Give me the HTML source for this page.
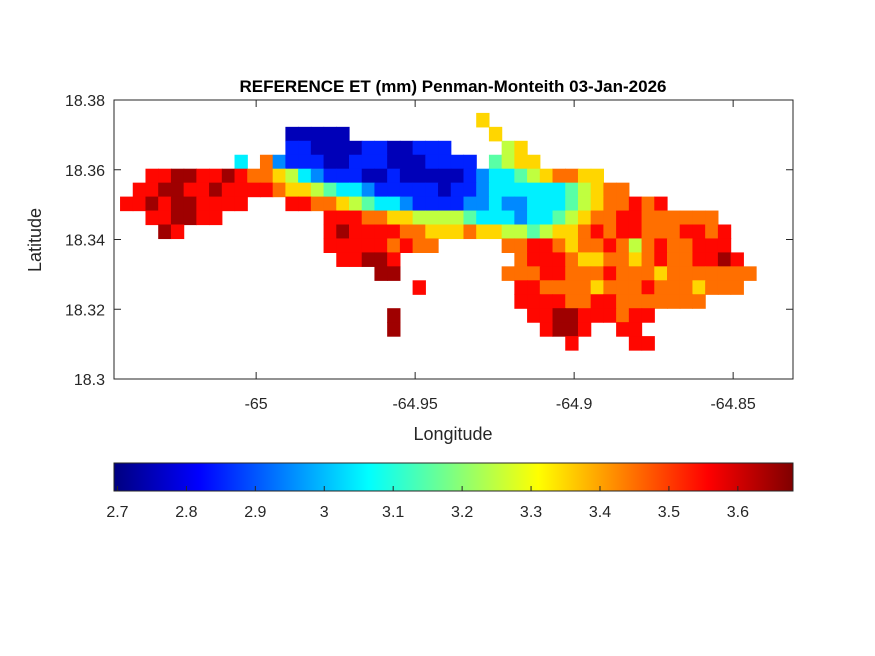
<!DOCTYPE html>
<html><head><meta charset="utf-8">
<style>
html,body{margin:0;padding:0;background:#fff;}
svg{display:block;font-family:"Liberation Sans",Arial,sans-serif;}
</style></head>
<body>
<svg id="chart" width="875" height="656" viewBox="0 0 875 656" xmlns="http://www.w3.org/2000/svg">
<rect width="875" height="656" fill="#fff"/>
<text x="453" y="92" text-anchor="middle" font-size="17" font-weight="bold" fill="#000">REFERENCE ET (mm) Penman-Monteith 03-Jan-2026</text>
<g id="map"></g>
<rect x="114" y="100" width="679" height="279" fill="none" stroke="#262626" stroke-width="1"/>
<g id="axes"></g>
<text x="453" y="440" text-anchor="middle" font-size="18" fill="#262626">Longitude</text>
<text transform="translate(41,240) rotate(-90)" text-anchor="middle" font-size="18" fill="#262626">Latitude</text>
<g id="cbar"></g>
</svg>
<script>
// ---- data ----
const lonTicks = [-65, -64.95, -64.9, -64.85];
const lonTickLabels = ["-65", "-64.95", "-64.9", "-64.85"];
const latTicks = [18.38, 18.36, 18.34, 18.32, 18.3];
const latTickLabels = ["18.38", "18.36", "18.34", "18.32", "18.3"];
const cbarTicks = [2.7, 2.8, 2.9, 3.0, 3.1, 3.2, 3.3, 3.4, 3.5, 3.6];
const cbarTickLabels = ["2.7","2.8","2.9","3","3.1","3.2","3.3","3.4","3.5","3.6"];
const gridLon0 = -65.0428;
const gridLat0 = 18.3763;
const gridStep = 0.004;
const levelBase = 2.75;
const levelStep = 0.1;
// each row: list of [startColumn, digits]; digit d => ET = 2.75 + 0.1*d
const etRows = [
  [[28,"6"]],
  [[13,"00000"],[29,"6"]],
  [[13,"1100001100111"],[30,"56"]],
  [[9,"3"],[11,"72111001110001111"],[29,"4566"]],
  [[2,"889988987765321110010000012334567766"]],
  [[1,"889988988887665433211111011233333345677"]],
  [[0,"8898998888"],[13,"887765433211112232233345677878"]],
  [[2,"889988"],[16,"8887766555543332334567788777777"]],
  [[3,"98"],[16,"89888877666766554566787887778878"]],
  [[16,"888887877"],[30,"778876778757877888"]],
  [[17,"88998"],[31,"788876677678778898"]],
  [[20,"99"],[30,"77788777877767777777"]],
  [[23,"8"],[31,"887777677787776777"]],
  [[31,"888877887777777"]],
  [[21,"9"],[32,"8899888788"]],
  [[21,"9"],[33,"8998"],[39,"88"]],
  [[35,"8"],[40,"88"]]
];
const cMin = 2.695, cMax = 3.68;

// ---- scales ----
const NS = "http://www.w3.org/2000/svg";
function xLon(lon){ return 114 + (lon + 65.0447) * 3180; }
function yLat(lat){ return 100 + (18.38 - lat) * 3487.5; }
function xC(v){ return 114 + (v - cMin) * (679 / (cMax - cMin)); }
function jet(v){
  let t = (v - cMin) / (cMax - cMin); t = Math.max(0, Math.min(1, t));
  const f = (a) => Math.max(0, Math.min(1, a));
  const r = f(Math.min(4*t - 1.5, -4*t + 4.5));
  const g = f(Math.min(4*t - 0.5, -4*t + 3.5));
  const b = f(Math.min(4*t + 0.5, -4*t + 2.5));
  return "rgb(" + Math.round(r*255) + "," + Math.round(g*255) + "," + Math.round(b*255) + ")";
}
function mk(tag, attrs, parent){
  const e = document.createElementNS(NS, tag);
  for (const k in attrs) e.setAttribute(k, attrs[k]);
  parent.appendChild(e); return e;
}

// ---- heatmap ----
const map = document.getElementById("map");
etRows.forEach((segs, r) => {
  const lat1 = gridLat0 - r * gridStep, lat2 = lat1 - gridStep;
  segs.forEach(([start, digits]) => {
    for (let i = 0; i < digits.length; i++) {
      const ch = digits[i];
      if (ch === ".") continue;
      const val = levelBase + levelStep * Number(ch);
      const c = start + i;
      const lon1 = gridLon0 + c * gridStep, lon2 = lon1 + gridStep;
      const x1 = xLon(lon1), x2 = xLon(lon2), y1 = yLat(lat1), y2 = yLat(lat2);
      const cell = mk("rect", {x: x1.toFixed(2), y: y1.toFixed(2), width: (x2-x1+0.6).toFixed(2), height: (y2-y1+0.6).toFixed(2), fill: jet(val)}, map);
      
      
    }
  });
});

// ---- axes ----
const axes = document.getElementById("axes");
lonTicks.forEach((v, i) => {
  const x = xLon(v);
  const t1 = mk("line", {x1:x, y1:379, x2:x, y2:372, stroke:"#262626"}, axes);
  
  
  const t2 = mk("line", {x1:x, y1:100, x2:x, y2:107, stroke:"#262626"}, axes);
  
  
  const lb = mk("text", {x:x, y:409, "text-anchor":"middle", "font-size":"16", fill:"#262626"}, axes);
  lb.textContent = lonTickLabels[i];
  
  
});
latTicks.forEach((v, i) => {
  const y = yLat(v);
  const t1 = mk("line", {x1:114, y1:y, x2:121, y2:y, stroke:"#262626"}, axes);
  
  
  const t2 = mk("line", {x1:793, y1:y, x2:786, y2:y, stroke:"#262626"}, axes);
  
  
  const lb = mk("text", {x:105, y:y+6, "text-anchor":"end", "font-size":"16", fill:"#262626"}, axes);
  lb.textContent = latTickLabels[i];
  
  
});

// ---- colorbar ----
const cb = document.getElementById("cbar");
for (let px = 114; px < 793; px++) {
  const v = cMin + (px + 0.5 - 114) / 679 * (cMax - cMin);
  const s = mk("rect", {x:px, y:463, width:1.2, height:28, fill:jet(v)}, cb);
  
  
}
const cbBox = mk("rect", {x:114, y:463, width:679, height:28, fill:"none", stroke:"#262626"}, cb);


cbarTicks.forEach((v, i) => {
  const x = xC(v);
  const t = mk("line", {x1:x, y1:491, x2:x, y2:486, stroke:"#262626"}, cb);
  
  
  const lb = mk("text", {x:x, y:517, "text-anchor":"middle", "font-size":"16", fill:"#262626"}, cb);
  lb.textContent = cbarTickLabels[i];
  
  
});
</script>
</body></html>
